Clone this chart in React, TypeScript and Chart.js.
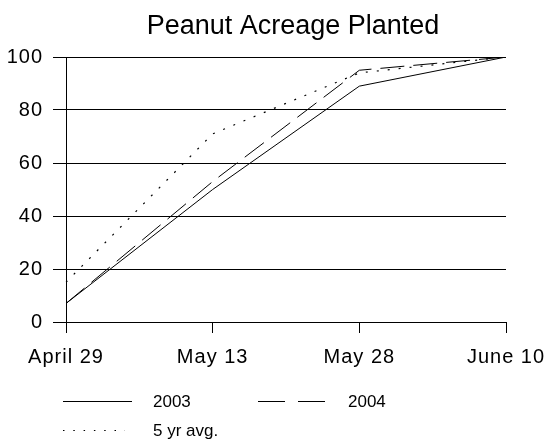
import React, { useEffect, useRef } from 'react';
import { Chart, registerables } from 'chart.js';

Chart.register(...registerables);

const dates = ['April 29', 'May 13', 'May 28', 'June 10'];
const series2003 = [7, 50, 89, 100];
const series2004 = [7, 53, 95, 100];
const series5yr = [15, 71, 94, 100];
const yMin = 0;
const yMax = 100;
const yStep = 20;
const titleText = 'Peanut Acreage Planted';
const seriesNames = ['2003', '2004', '5 yr avg.'];

const FONT = "'Liberation Sans', Arial, Helvetica, sans-serif";

const dashChart = [24, 9];
const dotChart = [2, 9];

const spacingPlugin = {
  id: 'spacing',
  beforeLayout(chart: any) {
    chart.ctx.letterSpacing = '1px';
  },
  beforeDraw(chart: any) {
    chart.ctx.letterSpacing = '1px';
  },
};

const decorPlugin = {
  id: 'decor',
  afterDraw(chart: any) {
    const ctx = chart.ctx;
    ctx.save();
    ctx.letterSpacing = '0px';
    // title
    ctx.fillStyle = '#000';
    ctx.font = `27px ${FONT}`;
    ctx.textAlign = 'center';
    ctx.textBaseline = 'alphabetic';
    ctx.fillText(titleText, 293, 34);

    // legend
    const items = [
      { name: seriesNames[0], dash: [], x: 63, y: 401, len: 69 },
      { name: seriesNames[1], dash: [27, 13], x: 258, y: 401, len: 67 },
      { name: seriesNames[2], dash: [1.5, 8.8], x: 63, y: 430, len: 62 },
    ];
    ctx.font = `17px ${FONT}`;
    ctx.textAlign = 'left';
    ctx.textBaseline = 'middle';
    items.forEach((it) => {
      ctx.strokeStyle = '#000';
      ctx.lineWidth = 1;
      ctx.setLineDash(it.dash);
      ctx.beginPath();
      ctx.moveTo(it.x, it.y + 0.5);
      ctx.lineTo(it.x + it.len, it.y + 0.5);
      ctx.stroke();
      ctx.setLineDash([]);
      ctx.fillText(it.name, it.x + 90, it.y + 1);
    });
    ctx.restore();
  },
};

export default function App() {
  const ref = useRef<HTMLCanvasElement | null>(null);

  useEffect(() => {
    if (!ref.current) return;
    const chart = new Chart(ref.current, {
      type: 'line',
      data: {
        labels: dates,
        datasets: [
          {
            label: seriesNames[0],
            data: series2003,
            borderColor: '#000',
            borderWidth: 1,
            pointRadius: 0,
            tension: 0,
            fill: false,
          },
          {
            label: seriesNames[1],
            data: series2004,
            borderColor: '#000',
            borderWidth: 1,
            borderDash: dashChart,
            pointRadius: 0,
            tension: 0,
            fill: false,
          },
          {
            label: seriesNames[2],
            data: series5yr,
            borderColor: '#000',
            borderWidth: 1.2,
            borderDash: dotChart,
            pointRadius: 0,
            tension: 0,
            fill: false,
          },
        ],
      },
      options: {
        responsive: false,
        animation: false,
        devicePixelRatio: 1,
        layout: { padding: { top: 57, right: 39, bottom: 0, left: 0 } },
        plugins: {
          legend: { display: false },
          title: { display: false },
          tooltip: { enabled: false },
        },
        scales: {
          x: {
            type: 'category',
            offset: false,
            grid: {
              display: true,
              drawOnChartArea: false,
              drawTicks: true,
              tickLength: 11,
              color: '#000',
              lineWidth: 1,
            },
            border: { display: true, color: '#000', width: 1 },
            ticks: {
              color: '#000',
              font: { family: FONT, size: 20 },
              padding: 12,
              maxRotation: 0,
              autoSkip: false,
            },
            afterFit: (s: any) => {
              s.height = 440 - 322;
              s.paddingLeft = 0;
              s.paddingRight = 0;
            },
          },
          y: {
            min: yMin,
            max: yMax,
            grid: {
              display: true,
              drawOnChartArea: true,
              drawTicks: true,
              tickLength: 13,
              color: '#000',
              lineWidth: 1,
            },
            border: { display: true, color: '#000', width: 1 },
            ticks: {
              stepSize: yStep,
              color: '#000',
              font: { family: FONT, size: 20 },
              padding: 10,
            },
            afterFit: (s: any) => {
              s.width = 66;
              s.paddingTop = 0;
              s.paddingBottom = 0;
            },
          },
        },
      },
      plugins: [spacingPlugin, decorPlugin],
    });
    return () => chart.destroy();
  }, []);

  return (
    <div style={{ position: 'fixed', left: 0, top: 0, width: 545, height: 440, background: '#fff' }}>
      <canvas ref={ref} width={545} height={440} style={{ display: 'block', width: 545, height: 440 }} />
    </div>
  );
}
